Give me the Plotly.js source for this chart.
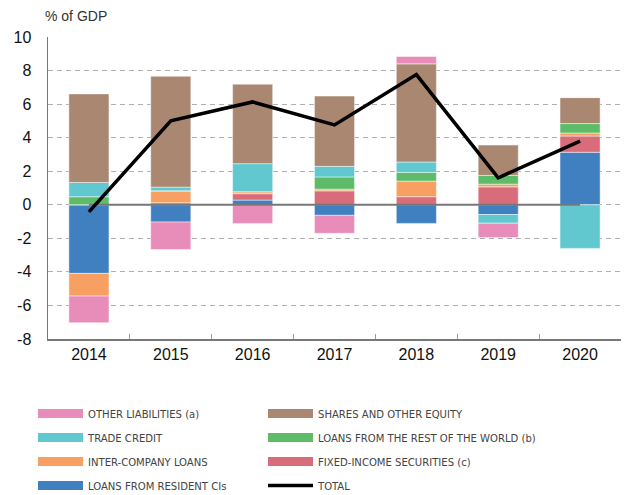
<!DOCTYPE html>
<html>
<head>
<meta charset="utf-8">
<script src="https://cdn.plot.ly/plotly-3.0.1.min.js"></script>
<style>
  body { margin: 0; background: #fff; }
  #grafica { width: 627px; height: 495px; }
</style>
</head>
<body>
<div id="grafica"></div>
<script>
const years = ["2014", "2015", "2016", "2017", "2018", "2019", "2020"];

// % of GDP
const loansResidentCIs = [-4.09, -1.03, 0.28, -0.63, -1.11, -0.58, 3.13];
const fixedIncome = [0, 0.12, 0.38, 0.83, 0.48, 1.07, 0.97];
const interCompany = [-1.35, 0.71, 0.12, 0.10, 0.93, 0.16, 0.18];
const loansRestOfWorld = [0.48, 0, 0, 0.73, 0.52, 0.52, 0.56];
const tradeCredit = [0.85, 0.22, 1.67, 0.63, 0.62, -0.52, -2.6];
const sharesEquity = [5.28, 6.61, 4.74, 4.19, 5.85, 1.81, 1.55];
const otherLiabilities = [-1.59, -1.64, -1.11, -1.07, 0.44, -0.85, 0];
const total = [-0.42, 5.0, 6.13, 4.76, 7.76, 1.61, 3.79];

const yTicks = [-8, -6, -4, -2, 0, 2, 4, 6, 8, 10];

const series = [
  { name: "LOANS FROM RESIDENT CIs", y: loansResidentCIs, color: "#4080C0", legend: "legend", rank: 4 },
  { name: "FIXED-INCOME SECURITIES (c)", y: fixedIncome, color: "#D86C7A", legend: "legend2", rank: 7 },
  { name: "INTER-COMPANY LOANS", y: interCompany, color: "#F7A062", legend: "legend", rank: 3 },
  { name: "LOANS FROM THE REST OF THE WORLD (b)", y: loansRestOfWorld, color: "#5EBC68", legend: "legend2", rank: 6 },
  { name: "TRADE CREDIT", y: tradeCredit, color: "#62C8D0", legend: "legend", rank: 2 },
  { name: "SHARES AND OTHER EQUITY", y: sharesEquity, color: "#AA8770", legend: "legend2", rank: 5 },
  { name: "OTHER LIABILITIES (a)", y: otherLiabilities, color: "#E88CB9", legend: "legend", rank: 1 }
];

const data = [];

series.forEach((s) => {
  data.push({
    x: years,
    y: s.y,
    type: "bar",
    name: s.name,
    showlegend: false,
    marker: { color: s.color, line: { color: "rgba(255,255,255,0.6)", width: 0.8 } },
    hoverinfo: "skip"
  });
});

// linea de cero
data.push({
  x: years,
  y: years.map(() => 0),
  type: "scatter",
  mode: "lines",
  line: { color: "#777777", width: 2 },
  showlegend: false,
  hoverinfo: "skip"
});

data.push({
  x: years,
  y: total,
  type: "scatter",
  mode: "lines",
  name: "TOTAL",
  line: { color: "#000000", width: 3.5 },
  legend: "legend2",
  legendgroup: "total",
  legendrank: 8
});

// entradas de leyenda con barra alargada
series.forEach((s) => {
  data.push({
    x: [null],
    y: [null],
    type: "scatter",
    mode: "lines",
    name: s.name,
    line: { color: s.color, width: 9 },
    legend: s.legend,
    legendgroup: s.name,
    legendrank: s.rank,
    hoverinfo: "skip"
  });
});

const legendFont = { family: "Liberation Sans Narrow, DejaVu Sans Condensed, sans-serif", size: 11.2, color: "#444444" };

const legendComun = {
  xref: "container",
  yref: "container",
  y: 1 - 399 / 495,
  xanchor: "left",
  yanchor: "top",
  orientation: "v",
  traceorder: "grouped",
  tracegroupgap: 5,
  itemwidth: 45,
  font: legendFont,
  bgcolor: "rgba(0,0,0,0)"
};

const layout = {
  width: 627,
  height: 495,
  margin: { l: 48, r: 6, t: 37, b: 156, autoexpand: false },
  paper_bgcolor: "#ffffff",
  plot_bgcolor: "#ffffff",
  barmode: "relative",
  bargap: 0.51,
  font: { family: "Liberation Sans, Arial, sans-serif", color: "#111111" },
  title: {
    text: "% of GDP",
    x: 45 / 627,
    xanchor: "left",
    xref: "container",
    y: 1 - 16 / 495,
    yanchor: "middle",
    font: { size: 14, color: "#333333" }
  },
  xaxis: {
    type: "category",
    range: [-0.5, 6.5],
    showline: true,
    linecolor: "#777777",
    linewidth: 2,
    ticks: "inside",
    tickson: "boundaries",
    ticklen: 5,
    tickcolor: "#999999",
    tickfont: { size: 16 },
    showgrid: false,
    zeroline: false
  },
  yaxis: {
    range: [-8, 10],
    tickvals: yTicks,
    ticktext: yTicks.map(String),
    showline: true,
    linecolor: "#777777",
    linewidth: 1.5,
    ticks: "",
    ticklabelstandoff: 12,
    tickfont: { size: 16 },
    showgrid: true,
    gridcolor: "#b0b0b0",
    gridwidth: 1,
    griddash: "5px,4px",
    zeroline: false
  },
  showlegend: true,
  legend: Object.assign({}, legendComun, { x: 33 / 627 }),
  legend2: Object.assign({}, legendComun, { x: 263 / 627 })
};

Plotly.newPlot("grafica", data, layout, { displayModeBar: false, staticPlot: true });
</script>
</body>
</html>
